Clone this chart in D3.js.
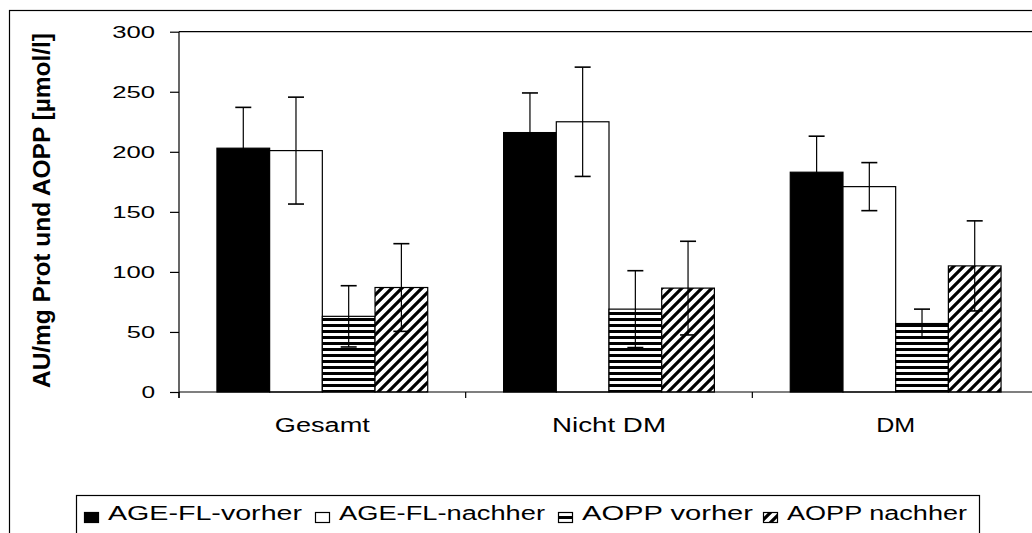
<!DOCTYPE html>
<html>
<head>
<meta charset="utf-8">
<script src="https://cdn.jsdelivr.net/npm/d3@7"></script>
<style>
  body { margin: 0; background: #fff; }
  text { font-family: "Liberation Sans", Arial, sans-serif; fill: #000; }
</style>
</head>
<body>
<div id="chart"></div>
<script>
////////////////////////////////////////////////////////////////////////
// Data

let categories = ["Gesamt", "Nicht DM", "DM"];
let seriesNames = ["AGE-FL-vorher", "AGE-FL-nachher", "AOPP vorher", "AOPP nachher"];

// means and error (+/-) per category
let ageVorher = [203, 216, 183];
let ageVorherErr = [34, 33, 30];
let ageNachher = [201, 225, 171];
let ageNachherErr = [44.5, 45.5, 20];
let aoppVorher = [63, 69, 57];
let aoppVorherErr = [25.5, 32, 12];
let aoppNachher = [87, 86.5, 105];
let aoppNachherErr = [36.5, 39, 37.5];

let yTicks = [0, 50, 100, 150, 200, 250, 300];
let yTitle = "AU/mg Prot und AOPP [µmol/l]";

////////////////////////////////////////////////////////////////////////
// Layout

let width = 1032;
let height = 533;
let plot = {left: 179, right: 1039, top: 31.7, bottom: 392};

// fill for each series, in the same order as seriesNames
let fills = ["#000", "#fff", "url(#hstripe)", "url(#diag)"];

// legend item positions (square left edge) and text widths
let legendX = [84, 315, 558, 763];
let legendTextW = [194, 206, 171, 180];

let means = [ageVorher, ageNachher, aoppVorher, aoppNachher];
let errs = [ageVorherErr, ageNachherErr, aoppVorherErr, aoppNachherErr];

// one row per bar
let rows = [];
categories.forEach((c, ci) => {
  seriesNames.forEach((s, si) => {
    rows.push({cat: c, series: s, si: si, value: means[si][ci], err: errs[si][ci]});
  });
});

let svg = d3.select("#chart")
  .append("svg")
  .attr("width", width)
  .attr("height", height);

// hatch patterns
let defs = svg.append("defs");
let hp = defs.append("pattern")
  .attr("id", "hstripe")
  .attr("patternUnits", "userSpaceOnUse")
  .attr("width", 8)
  .attr("height", 6);
hp.append("rect").attr("width", 8).attr("height", 6).attr("fill", "#fff");
hp.append("rect").attr("width", 8).attr("height", 3).attr("fill", "#000");

let dp = defs.append("pattern")
  .attr("id", "diag")
  .attr("patternUnits", "userSpaceOnUse")
  .attr("width", 10)
  .attr("height", 10);
dp.append("rect").attr("width", 10).attr("height", 10).attr("fill", "#fff");
dp.append("path")
  .attr("d", "M0,10 L10,0 M-3,3 L3,-3 M7,13 L13,7")
  .attr("stroke", "#000")
  .attr("stroke-width", 3.2);

// outer frame
svg.append("rect")
  .attr("x", 9.5)
  .attr("y", 10.5)
  .attr("width", 1040)
  .attr("height", 540)
  .attr("fill", "none")
  .attr("stroke", "#000")
  .attr("stroke-width", 1.2);

////////////////////////////////////////////////////////////////////////
// Scales

let x0 = d3.scaleBand()
  .domain(categories)
  .range([plot.left, plot.right])
  .padding(0);

let x1 = d3.scaleBand()
  .domain(seriesNames)
  .range([0, x0.bandwidth()])
  .paddingInner(0)
  .paddingOuter(0.72);

let y = d3.scaleLinear()
  .domain([0, 300])
  .range([plot.bottom, plot.top]);

// plot area top line
svg.append("line")
  .attr("x1", plot.left)
  .attr("x2", plot.right)
  .attr("y1", y(300))
  .attr("y2", y(300))
  .attr("stroke", "#000")
  .attr("stroke-width", 1.2);

////////////////////////////////////////////////////////////////////////
// Bars

svg.append("g")
  .attr("class", "bars")
  .selectAll("rect")
  .data(rows)
  .enter()
  .append("rect")
  .attr("x", d => x0(d.cat) + x1(d.series))
  .attr("y", d => y(d.value))
  .attr("width", x1.bandwidth())
  .attr("height", d => y(0) - y(d.value))
  .attr("fill", d => fills[d.si])
  .attr("stroke", "#000")
  .attr("stroke-width", 1.2);

// error bars
let eb = svg.append("g")
  .attr("class", "errors")
  .selectAll("g")
  .data(rows)
  .enter()
  .append("g")
  .attr("transform", d => `translate(${x0(d.cat) + x1(d.series) + x1.bandwidth() / 2},0)`)
  .attr("stroke", "#000");

eb.append("line")
  .attr("y1", d => y(d.value + d.err))
  .attr("y2", d => y(d.value - d.err))
  .attr("stroke-width", 1.2);

eb.append("line")
  .attr("x1", -8)
  .attr("x2", 8)
  .attr("y1", d => y(d.value + d.err))
  .attr("y2", d => y(d.value + d.err))
  .attr("stroke-width", 1.6);

eb.append("line")
  .attr("x1", -8)
  .attr("x2", 8)
  .attr("y1", d => y(d.value - d.err))
  .attr("y2", d => y(d.value - d.err))
  .attr("stroke-width", 1.6);

////////////////////////////////////////////////////////////////////////
// Axes

let yAxis = svg.append("g")
  .attr("transform", `translate(${plot.left},0)`)
  .call(d3.axisLeft(y).tickValues(yTicks).tickSize(9).tickPadding(15));
yAxis.select(".domain")
  .attr("d", `M0,${plot.top}V${plot.bottom + 6}`)
  .attr("stroke", "#000")
  .attr("stroke-width", 1.2);
yAxis.selectAll(".tick line").attr("stroke", "#000").attr("stroke-width", 1.2);
yAxis.selectAll(".tick text")
  .attr("font-family", "'Liberation Sans', Arial, sans-serif")
  .attr("font-size", 16)
  .attr("fill", "#000")
  .attr("dy", "0.36em")
  .attr("textLength", d => String(d).length * 14.6 - 1)
  .attr("lengthAdjust", "spacingAndGlyphs");

// x axis line
svg.append("line")
  .attr("x1", plot.left)
  .attr("x2", plot.right)
  .attr("y1", y(0))
  .attr("y2", y(0))
  .attr("stroke", "#000")
  .attr("stroke-width", 1.2);

// separator ticks between categories
let bounds = categories.map(c => x0(c)).concat([plot.right]);
svg.append("g")
  .selectAll("line")
  .data(bounds)
  .enter()
  .append("line")
  .attr("x1", d => d)
  .attr("x2", d => d)
  .attr("y1", y(0))
  .attr("y2", y(0) + 6)
  .attr("stroke", "#000")
  .attr("stroke-width", 1.2);

// category labels
let catW = {"Gesamt": 95, "Nicht DM": 114, "DM": 39};
svg.append("g")
  .selectAll("text")
  .data(categories)
  .enter()
  .append("text")
  .attr("x", d => x0(d) + x0.bandwidth() / 2)
  .attr("y", 432)
  .attr("text-anchor", "middle")
  .attr("font-size", 20)
  .attr("textLength", d => catW[d])
  .attr("lengthAdjust", "spacingAndGlyphs")
  .text(d => d);

// y title (rotated, slightly stretched sideways like the original)
svg.append("text")
  .attr("transform", "translate(50,210.5) scale(1.35,1) rotate(-90)")
  .attr("text-anchor", "middle")
  .attr("font-size", 17.5)
  .attr("font-weight", "bold")
  .attr("textLength", 355)
  .attr("lengthAdjust", "spacingAndGlyphs")
  .text(yTitle);

////////////////////////////////////////////////////////////////////////
// Legend

svg.append("rect")
  .attr("x", 76.5)
  .attr("y", 495.5)
  .attr("width", 903)
  .attr("height", 60)
  .attr("fill", "#fff")
  .attr("stroke", "#000")
  .attr("stroke-width", 1.2);

let leg = svg.append("g")
  .selectAll("g")
  .data(seriesNames)
  .enter()
  .append("g")
  .attr("transform", (d, i) => `translate(${legendX[i]},0)`);

leg.append("rect")
  .attr("x", 0.5)
  .attr("y", 512.5)
  .attr("width", 14)
  .attr("height", 10)
  .attr("fill", (d, i) => fills[i])
  .attr("stroke", "#000")
  .attr("stroke-width", 1.2);

leg.append("text")
  .attr("x", 24)
  .attr("y", 520)
  .attr("font-size", 20)
  .attr("textLength", (d, i) => legendTextW[i])
  .attr("lengthAdjust", "spacingAndGlyphs")
  .text(d => d);
</script>
</body>
</html>
